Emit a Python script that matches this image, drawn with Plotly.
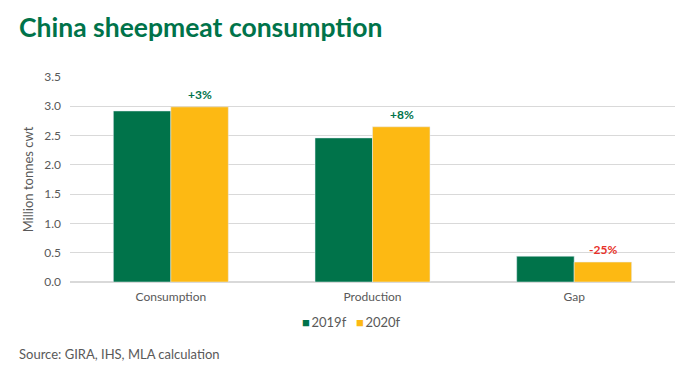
import plotly.graph_objects as go

categories = ["Consumption", "Production", "Gap"]
series_names = ["2019f", "2020f"]
values_2019 = [2.92, 2.46, 0.44]
values_2020 = [2.99, 2.65, 0.34]
change_labels = ["+3%", "+8%", "-25%"]
change_colors = ["#00734A", "#00734A", "#E8322B"]
y_ticks = [0.0, 0.5, 1.0, 1.5, 2.0, 2.5, 3.0, 3.5]

GREEN = "#00734A"
YELLOW = "#FDB913"
SERIES_COLORS = [GREEN, YELLOW]
FONT = "Lato, 'Open Sans', sans-serif"

# page body has 8px margin: figure drawn at offset (8, 8)
W, H = 684, 357
L, R, T, B = 62, 17, 69, 83
PW, PH = W - L - R, H - T - B

fig = go.Figure()
fig.add_trace(go.Bar(x=categories, y=values_2019, name=series_names[0], marker_color=GREEN,
                     showlegend=False))
fig.add_trace(go.Bar(x=categories, y=values_2020, name=series_names[1], marker_color=YELLOW,
                     showlegend=False))

for cat, v, lab, col in zip(categories, values_2020, change_labels, change_colors):
    fig.add_annotation(x=cat, y=v, xref="x", yref="y", text="<b>%s</b>" % lab,
                       showarrow=False, xshift=29, yshift=3, yanchor="bottom",
                       font=dict(family=FONT, size=12, color=col))

# compact legend (small squares next to labels)
legend_text = "&nbsp;&nbsp;&nbsp;".join(
    '<span style="color:%s">■</span>&#8201;%s' % (c, n) for c, n in zip(SERIES_COLORS, series_names))
fig.add_annotation(text=legend_text, xref="paper", yref="paper",
                   x=(343 - L) / PW, y=-(314 - (T + PH)) / PH, xanchor="center", yanchor="middle",
                   showarrow=False, font=dict(family=FONT, size=13, color="#595959"))

fig.add_annotation(text="<b>China sheepmeat consumption</b>", xref="paper", yref="paper",
                   x=(9 - L) / PW, y=1 + (T - 19) / PH, xanchor="left", yanchor="middle",
                   showarrow=False, font=dict(family=FONT, size=26.5, color=GREEN))
fig.add_annotation(text="Source: GIRA, IHS, MLA calculation", xref="paper", yref="paper",
                   x=(9 - L) / PW, y=-(346 - (T + PH)) / PH, xanchor="left", yanchor="middle",
                   showarrow=False, font=dict(family=FONT, size=13, color="#595959"))

fig.update_layout(
    width=W, height=H,
    margin=dict(l=L, r=R, t=T, b=B, autoexpand=False),
    paper_bgcolor="white", plot_bgcolor="white",
    barmode="group", bargap=0.43, bargroupgap=0,
    font=dict(family=FONT, size=12, color="#595959"),
    showlegend=False,
)
fig.update_xaxes(showgrid=False, showline=False, ticks="", ticklabelstandoff=6,
                 tickfont=dict(size=12, color="#595959"))
fig.update_yaxes(range=[0, 3.5], tickvals=y_ticks, ticktext=["%.1f" % t for t in y_ticks],
                 showgrid=True, gridcolor="#D9D9D9", gridwidth=1, zeroline=True,
                 zerolinecolor="#D9D9D9", showline=False, ticks="", ticklabelstandoff=8,
                 tickfont=dict(size=12, color="#595959"),
                 title=dict(text="Million tonnes cwt", font=dict(size=13, color="#595959"), standoff=7))

fig.write_html("out.html")
